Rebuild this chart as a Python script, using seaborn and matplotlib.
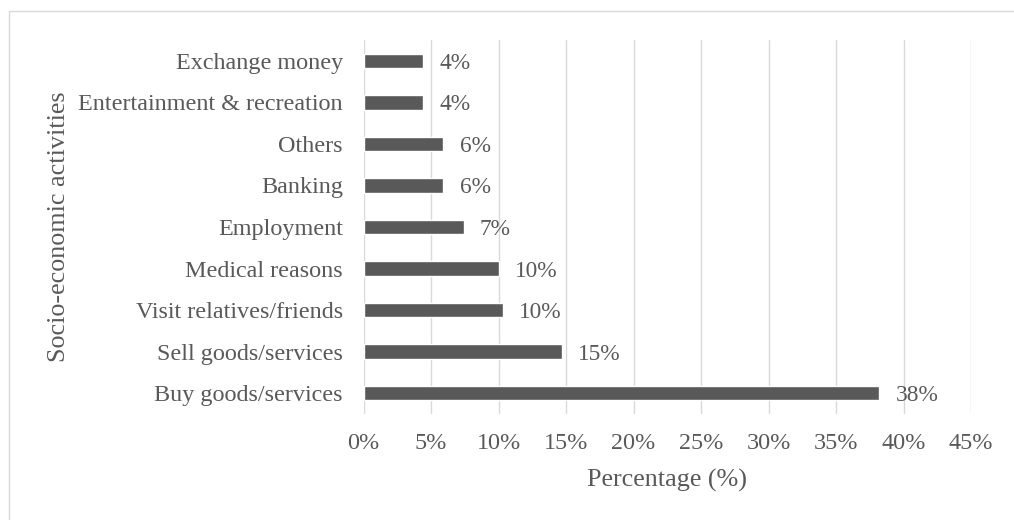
import matplotlib
matplotlib.use("Agg")
import matplotlib.pyplot as plt
from matplotlib.patches import Rectangle
from matplotlib.ticker import PercentFormatter
import seaborn as sns
import pandas as pd

# Share of respondents by purpose of cross-border trip (%)
activities = [
    "Exchange money",
    "Entertainment & recreation",
    "Others",
    "Banking",
    "Employment",
    "Medical reasons",
    "Visit relatives/friends",
    "Sell goods/services",
    "Buy goods/services",
]
shares = [4.4, 4.4, 5.9, 5.9, 7.4, 10.0, 10.3, 14.7, 38.2]
x_ticks = [0, 5, 10, 15, 20, 25, 30, 35, 40, 45]

df = pd.DataFrame({"activity": activities, "share": shares})

sns.set_theme(style="white")
plt.rcParams["font.family"] = ["Liberation Serif", "DejaVu Serif"]

TEXT = "#595959"
BAR = "#595959"
GRID = "#d9d9d9"

fig = plt.figure(figsize=(10.14, 5.2), dpi=100)
ax = fig.add_axes([363.7 / 1014, 1 - 414 / 520, (971 - 363.7) / 1014, (414 - 40) / 520])

sns.barplot(data=df, x="share", y="activity", orient="h", color=BAR,
            width=0.35, saturation=1, ax=ax)

ax.set_xlim(0, 45)
ax.set_xticks(x_ticks)
ax.xaxis.set_major_formatter(PercentFormatter(decimals=0))
ax.grid(axis="x", color=GRID, linewidth=1.0)
ax.grid(axis="y", visible=False)
ax.set_axisbelow(True)
for s in ax.spines.values():
    s.set_visible(False)

ax.tick_params(axis="y", length=0, pad=15, labelsize=17.4, labelcolor=TEXT)
ax.tick_params(axis="x", length=0, pad=14, labelsize=17.4, labelcolor=TEXT)

# value labels at the end of each bar
for i, v in enumerate(shares):
    ax.text(v + 1.2, i + 0.06, f"{v:.0f}%", va="center", ha="left",
            fontsize=16.8, color=TEXT)

ax.set_xlabel("Percentage (%)", fontsize=18.8, color=TEXT)
ax.set_ylabel("Socio-economic activities", fontsize=18.8, color=TEXT)
ax.xaxis.set_label_coords(0.5, (414 - 480) / 374)
ax.xaxis.label.set_va("center")
ax.yaxis.set_label_coords((59 - 363.7) / 607.3, 0.5)
ax.yaxis.label.set_va("center")

# light chart-area border
fig.patches.append(Rectangle((8.5 / 1014, -0.1), 1.2, 1 - 10.5 / 520 + 0.1,
                             transform=fig.transFigure, fill=False,
                             edgecolor=GRID, linewidth=1.0))

fig.savefig("out.png", dpi=100)
